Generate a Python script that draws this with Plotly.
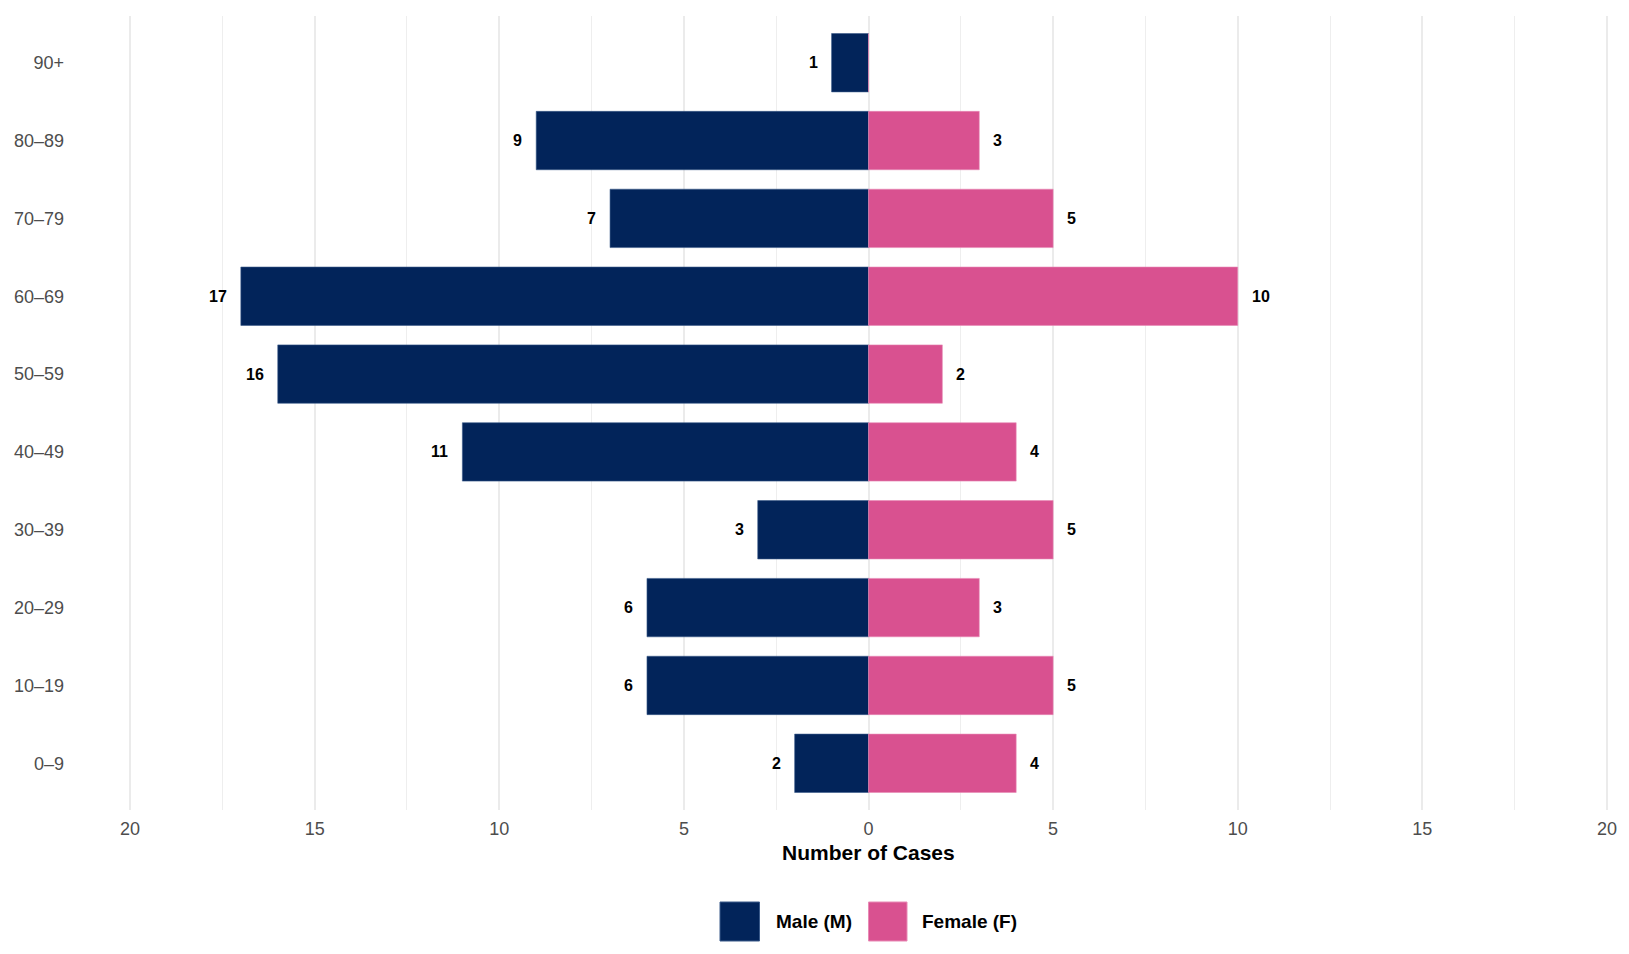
import plotly.graph_objects as go

age_groups = ["0–9", "10–19", "20–29", "30–39", "40–49", "50–59", "60–69", "70–79", "80–89", "90+"]
male = [2, 6, 6, 3, 11, 16, 17, 7, 9, 1]
female = [4, 5, 3, 5, 4, 2, 10, 5, 3, 0]
x_tickvals = [-20, -15, -10, -5, 0, 5, 10, 15, 20]
x_ticktext = ["20", "15", "10", "5", "0", "5", "10", "15", "20"]
legend_labels = ["Male (M)", "Female (F)"]

NAVY = "#02245A"
PINK = "#D95190"
FONT = "Liberation Sans, Arial, Helvetica, sans-serif"

W, H = 1629, 954
ML, MR, MT, MB = 119, 11, 16, 144
PW = W - ML - MR
PH = H - MT - MB

def px_x(px):
    return (px - ML) / PW

def px_y(py):
    return (H - MB - py) / PH

fig = go.Figure()
fig.add_trace(go.Bar(
    y=age_groups, x=[-v for v in male], orientation="h", width=0.75,
    marker=dict(color=NAVY, line=dict(color="#3A5A8A", width=0.6)),
    name=legend_labels[0], showlegend=False, hoverinfo="skip",
))
fig.add_trace(go.Bar(
    y=age_groups, x=female, orientation="h", width=0.75,
    marker=dict(color=PINK, line=dict(color="#E88AB5", width=0.6)),
    name=legend_labels[1], showlegend=False, hoverinfo="skip",
))

annotations = []
for g, m, f in zip(age_groups, male, female):
    if m > 0:
        annotations.append(dict(x=-m, y=g, xref="x", yref="y", text=str(m), showarrow=False,
                                xanchor="right", xshift=-12,
                                font=dict(family=FONT, size=16, color="#000000", weight="bold")))
    if f > 0:
        annotations.append(dict(x=f, y=g, xref="x", yref="y", text=str(f), showarrow=False,
                                xanchor="left", xshift=12,
                                font=dict(family=FONT, size=16, color="#000000", weight="bold")))

# x axis title
annotations.append(dict(x=px_x(868.5), y=px_y(852), xref="paper", yref="paper",
                        text="<b>Number of Cases</b>", showarrow=False, xanchor="center", yanchor="middle",
                        font=dict(family=FONT, size=21, color="#000000")))

# manual legend
shapes = []
legend_items = [(720, 759.5, 774, NAVY, "#3A5A8A"), (868.5, 907, 920, PINK, "#E88AB5")]
for (x0, x1, tx, col, lc), lab in zip(legend_items, legend_labels):
    shapes.append(dict(type="rect", xref="paper", yref="paper",
                       x0=px_x(x0), x1=px_x(x1), y0=px_y(941), y1=px_y(902),
                       fillcolor=col, line=dict(color=lc, width=1)))
    annotations.append(dict(x=px_x(tx), y=px_y(921.5), xref="paper", yref="paper",
                            text="<b>" + lab + "</b>", showarrow=False, xanchor="left", yanchor="middle",
                            font=dict(family=FONT, size=19, color="#000000")))

# minor gridlines
minor_vals = [-17.5, -12.5, -7.5, -2.5, 2.5, 7.5, 12.5, 17.5]

fig.update_layout(
    width=W, height=H,
    margin=dict(l=ML, r=MR, t=MT, b=MB),
    paper_bgcolor="white", plot_bgcolor="white",
    barmode="relative",
    bargap=0.25,
    showlegend=False,
    font=dict(family=FONT),
    annotations=annotations,
    shapes=shapes,
    xaxis=dict(
        range=[-20.3, 20.3], tickvals=x_tickvals, ticktext=x_ticktext,
        showgrid=True, gridcolor="#EBEBEB", gridwidth=1.6,
        minor=dict(tickvals=minor_vals, showgrid=True, gridcolor="#EEEEEE", gridwidth=1),
        zeroline=False, showline=False, ticks="",
        tickfont=dict(family=FONT, size=18, color="#4D4D4D"),
        ticklabelstandoff=6,
    ),
    yaxis=dict(
        categoryorder="array", categoryarray=age_groups,
        range=[-0.6, 9.6],
        showgrid=False, zeroline=False, showline=False, ticks="",
        tickfont=dict(family=FONT, size=18, color="#4D4D4D"),
        ticklabelstandoff=54,
    ),
)

fig.write_html("out.html")
